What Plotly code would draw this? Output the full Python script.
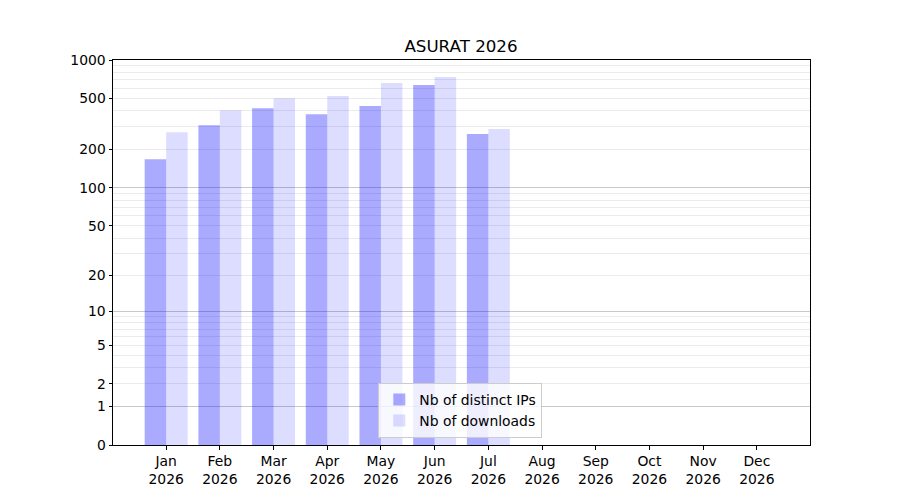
import math
import plotly.graph_objects as go

months = ["Jan", "Feb", "Mar", "Apr", "May", "Jun", "Jul", "Aug", "Sep", "Oct", "Nov", "Dec"]
year = "2026"
distinct_ips = [168, 310, 421, 377, 437, 637, 264, 0, 0, 0, 0, 0]
downloads = [273, 405, 504, 523, 661, 736, 289, 0, 0, 0, 0, 0]

y_tick_values = [0, 1, 2, 5, 10, 20, 50, 100, 200, 500, 1000]
y_minor_values = [3, 4, 6, 7, 8, 9, 30, 40, 60, 70, 80, 90, 300, 400, 600, 700, 800, 900]
y_major_grid_values = [1, 10, 100]
y_max = 1000

categories = [f"{m}<br>{year}" for m in months]

def shift(vals):
    # axis uses log10(1 + value)
    return [v + 1 for v in vals]

FONT = "DejaVu Sans"

fig = go.Figure()
fig.add_trace(go.Bar(
    x=categories, y=shift(distinct_ips), name="Nb of distinct IPs",
    marker=dict(color="rgba(0,0,255,0.333)", line=dict(width=0)),
))
fig.add_trace(go.Bar(
    x=categories, y=shift(downloads), name="Nb of downloads",
    marker=dict(color="rgba(0,0,255,0.133)", line=dict(width=0)),
))

yrange = [0, math.log10(y_max + 1)]

fig.update_layout(
    width=900, height=500,
    paper_bgcolor="white", plot_bgcolor="white",
    margin=dict(l=112.5, r=90, t=60, b=55),
    font=dict(family=FONT, size=13.9, color="black"),
    title=dict(text="ASURAT 2026", x=461 / 900, xanchor="center",
               yref="container", y=(500 - 46) / 500, yanchor="middle",
               font=dict(family=FONT, size=16.7, color="black")),
    barmode="group", bargap=0.2, bargroupgap=0,
    showlegend=True,
    legend=dict(x=(378 - 112.5) / 697.5, xanchor="left",
                y=(445 - 438) / 385, yanchor="bottom",
                bgcolor="rgba(255,255,255,0.8)", bordercolor="#cccccc", borderwidth=1,
                font=dict(family=FONT, size=13.9, color="black"),
                tracegroupgap=0),
    xaxis=dict(
        type="category", range=[-0.99, 11.99],
        showgrid=False, showline=True, linecolor="black", linewidth=1, mirror=True,
        ticks="outside", ticklen=3.5, tickwidth=1, tickcolor="black",
        tickfont=dict(family=FONT, size=13.9, color="black"),
        zeroline=False,
    ),
    yaxis=dict(
        type="log", range=yrange,
        tickvals=shift(y_tick_values), ticktext=[str(v) for v in y_tick_values],
        showgrid=True, gridcolor="#ebebeb", gridwidth=1,
        minor=dict(tickvals=shift(y_minor_values), showgrid=True, gridcolor="#ebebeb",
                   gridwidth=1, ticks=""),
        showline=True, linecolor="black", linewidth=1, mirror=True,
        ticks="outside", ticklen=3.5, tickwidth=1, tickcolor="black",
        tickfont=dict(family=FONT, size=13.9, color="black"),
        zeroline=False,
    ),
    yaxis2=dict(
        type="log", range=yrange, overlaying="y", anchor="x", side="left",
        tickvals=shift(y_major_grid_values), showticklabels=False, ticks="",
        showgrid=True, gridcolor="#c8c8c8", gridwidth=1,
        showline=False, zeroline=False,
    ),
)
# invisible trace so that the overlay axis (darker major grid) is drawn
fig.add_trace(go.Scatter(x=[categories[0]], y=[1], yaxis="y2", mode="markers",
                         marker=dict(opacity=0), showlegend=False, hoverinfo="skip"))

fig.write_html("out.html", config={"displayModeBar": False},
               post_script="document.body.style.margin='0';")
